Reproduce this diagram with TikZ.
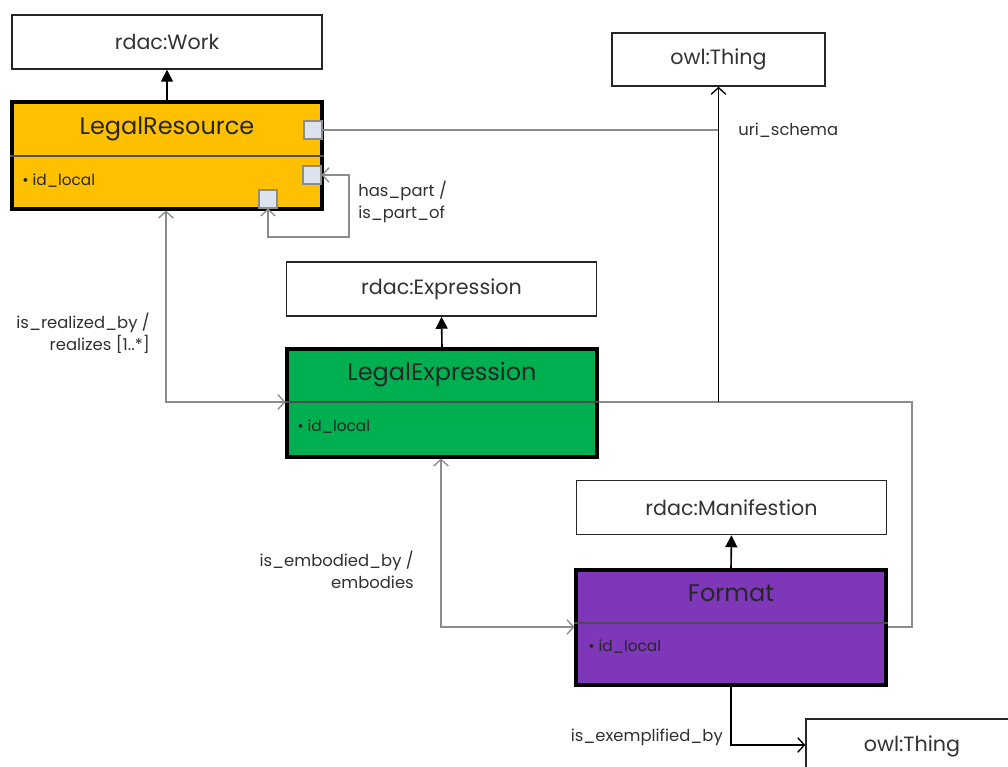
\documentclass[tikz,border=0pt]{standalone}
\usepackage{fontspec}
\setmainfont{Poppins}
\usetikzlibrary{arrows.meta}
\definecolor{lrfill}{HTML}{FFC000}
\definecolor{lefill}{HTML}{00B050}
\definecolor{fmfill}{HTML}{7E37B8}
\definecolor{sqfill}{HTML}{DCE3EE}
\definecolor{conn}{HTML}{8C8C8C}
\definecolor{lbl}{HTML}{303030}
\begin{document}
\begin{tikzpicture}[x=0.75pt,y=-0.75pt,
  plainbox/.style={draw=black!85,line width=1.1pt,fill=white,minimum width={310*0.75pt},minimum height={54*0.75pt},inner sep=0pt,font=\fontsize{15.5pt}{18pt}\selectfont,text=black!80},
  classbox/.style={draw=black,line width=2.3pt,minimum width={310*0.75pt},inner sep=0pt},
  clsname/.style={inner sep=0pt,font=\fontsize{18pt}{21pt}\selectfont,text=black!85},
  attr/.style={inner sep=0pt,anchor=west,font=\fontsize{11.5pt}{13pt}\selectfont,text=black!85},
  port/.style={draw=conn,line width=0.8pt,fill=sqfill,minimum size={18*0.75pt},inner sep=0pt},
  conline/.style={draw=conn,line width=1.3pt},
  blkline/.style={draw=black,line width=1.2pt},
  opentip/.style={-{Straight Barb[length=5pt,width=11pt,line width=1pt]}},
  bothtip/.style={{Straight Barb[length=5pt,width=11pt,line width=1pt]}-{Straight Barb[length=5pt,width=11pt,line width=1pt]}},
  gentip/.style={-{Triangle[length=9pt,width=9pt]}},
  lab/.style={inner sep=0pt,font=\fontsize{12.3pt}{16.5pt}\selectfont,text=lbl,align=left},
  labr/.style={inner sep=0pt,font=\fontsize{12.3pt}{16.5pt}\selectfont,text=lbl,align=right}
]
\useasboundingbox (0,0) rectangle (1008,767);
\clip (0,0) rectangle (1008,767);

% white superclass boxes
\node[plainbox] (work) at (167,42) {rdac:Work};
\node[plainbox,minimum width={213*0.75pt},minimum height={53*0.75pt}] (owl1) at (718.5,59.5) {owl:Thing};
\node[plainbox] (expr) at (441.5,289) {rdac:Expression};
\node[plainbox] (manif) at (731.5,507.5) {rdac:Manifestion};
\node[plainbox,minimum width={212*0.75pt}] (owl2) at (912,746) {owl:Thing};

% class boxes
\node[classbox,fill=lrfill,minimum height={107*0.75pt}] (lr) at (167,155.5) {};
\draw[line width=1.8pt,black!70] (lr.west |- 0,156) -- (lr.east |- 0,156);
\node[clsname] (lrname) at (167,129) {LegalResource};
\node[attr] (lrattr) at (22,181) {• id\_local};

\node[classbox,fill=lefill,minimum height={108*0.75pt}] (le) at (442,403) {};
\draw[line width=1.8pt,black!70] (le.west |- 0,402) -- (le.east |- 0,402);
\node[clsname] (lename) at (442,375) {LegalExpression};
\node[attr] (leattr) at (297,427) {• id\_local};

\node[classbox,fill=fmfill,minimum height={115*0.75pt}] (fm) at (731,627.5) {};
\draw[line width=1.8pt,black!70] (fm.west |- 0,623) -- (fm.east |- 0,623);
\node[clsname] (fmname) at (731,593) {Format};
\node[attr] (fmattr) at (588,647) {• id\_local};

% ports
\node[port] (sq1) at (313,130) {};
\node[port] (sq2) at (312,175) {};
\node[port] (sq3) at (268,199) {};

% generalizations
\draw[blkline,gentip] (lr.north) -- (work.south);
\draw[blkline,gentip] (le.north) -- (expr.south);
\draw[blkline,gentip] (fm.north) -- (manif.south);

% uri_schema
\coordinate (uj) at (718.5,402);
\draw[conline] (sq1.east) -- (uj |- sq1.east);
\draw[conline] (le.east |- uj) -- (912,402) -- (912,627) -- (fm.east |- 0,627);
\draw[blkline,opentip] (uj) -- (owl1.south);
\node[lab,anchor=west] (urilab) at (738,130) {uri\_schema};

% self association
\draw[conline,bothtip] (sq3.south) -- (268,237) -- (349,237) -- (349,175) -- (sq2.east);
\node[lab,anchor=north west] (partlab) at (358,181) {has\_part /\\is\_part\_of};

% realizes
\draw[conline,bothtip] (lr.south -| 166,0) -- (166,402) -- (le.west |- 0,402);
\node[labr,anchor=north east] (reallab) at (150,313) {is\_realized\_by /\\realizes [1..*]};

% embodies
\draw[conline,bothtip] (le.south -| 441,0) -- (441,627) -- (fm.west |- 0,627);
\node[labr,anchor=north east] (embodlab) at (414,551) {is\_embodied\_by /\\embodies};

% exemplified
\draw[blkline,opentip] (fm.south -| 731,0) -- (731,745) -- (owl2.west |- 0,745);
\node[labr,anchor=east] (exlab) at (723,737) {is\_exemplified\_by};
\end{tikzpicture}
\end{document}
